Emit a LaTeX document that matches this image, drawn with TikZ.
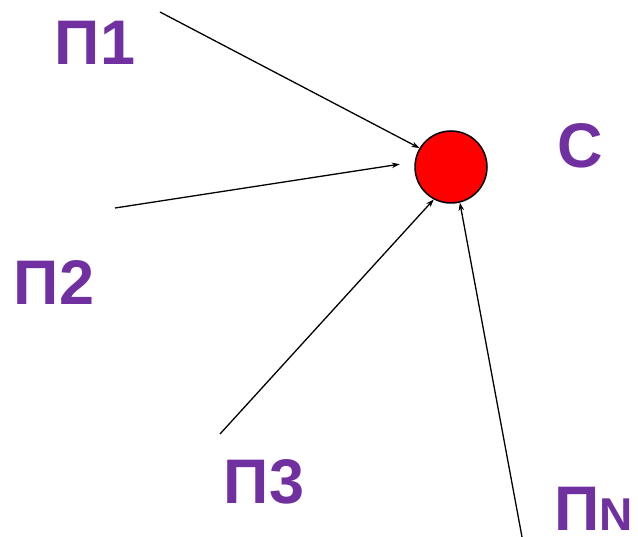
\documentclass[tikz,border=0pt]{standalone}
\usepackage{fontspec}
\setmainfont{Liberation Sans}
\usetikzlibrary{arrows.meta}
\definecolor{lblpurple}{HTML}{7030A0}
\begin{document}
\begin{tikzpicture}[x=1pt,y=-1pt,
  lbl/.style={text=lblpurple,font=\fontsize{63}{63}\selectfont\bfseries,inner sep=0pt},
  conn/.style={line width=1.3pt,-{Stealth[length=8pt,width=5.5pt]}},
  centre/.style={circle,draw=black,line width=1.5pt,fill=red,minimum size=72pt,inner sep=0pt}]
\useasboundingbox (0,0) rectangle (638,537);
\node[centre] (c) at (451,167) {};
\node[lbl] (p1) at (95,42.5) {П1};
\node[lbl] (p2) at (54,283) {П2};
\node[lbl] (p3) at (264,481.5) {П3};
\node[lbl,anchor=base west] (pn) at (554.5,531) {П\fontsize{46}{46}\selectfont N};
\node[lbl] (cl) at (580,146) {C};
\coordinate (s1) at (160,12);
\coordinate (s2) at (115,208);
\coordinate (s3) at (220,434);
\coordinate (s4) at (522,537);
\draw[conn] (s1) -- (c.149);
\draw[conn,shorten >=15pt] (s2) -- (c.172);
\draw[conn] (s3) -- (c.242);
\draw[conn] (s4) -- (c.284);
\end{tikzpicture}
\end{document}
